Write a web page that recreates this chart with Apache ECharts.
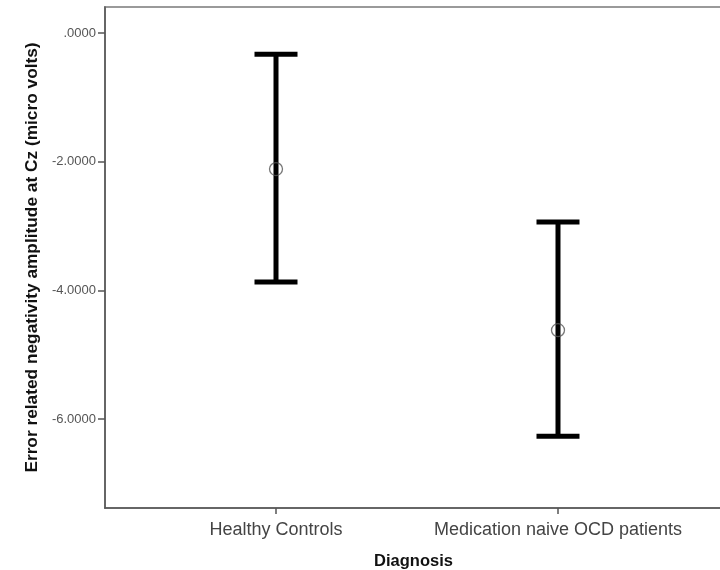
<!DOCTYPE html>
<html>
<head>
<meta charset="utf-8">
<script src="https://cdn.jsdelivr.net/npm/echarts@6/dist/echarts.min.js"></script>
<style>
html,body{margin:0;padding:0;background:#fff;}
#c{width:720px;height:570px;}
</style>
</head>
<body>
<div id="c"></div>
<script>
var categories = ['Healthy Controls', 'Medication naive OCD patients'];
var means = [-2.115, -4.62];
var lowerCI = [-3.87, -6.27];
var upperCI = [-0.33, -2.94];
var yTicks = [0, -2, -4, -6];

var FONT = '"Liberation Sans", Arial, sans-serif';
var chart = echarts.init(document.getElementById('c'));

var barData = categories.map(function (c, i) { return [i, lowerCI[i], upperCI[i]]; });
var meanData = categories.map(function (c, i) { return [i, means[i]]; });

chart.setOption({
  animation: false,
  backgroundColor: '#fff',
  grid: {
    left: 105, right: -2, top: 7, bottom: 62,
    outerBoundsMode: 'none',
    containLabel: false,
    show: true, borderColor: '#9a9a9a', borderWidth: 2
  },
  xAxis: {
    type: 'value',
    min: -0.6064, max: 1.5816,
    name: 'Diagnosis',
    nameLocation: 'middle',
    nameGap: 45,
    nameTextStyle: { fontFamily: FONT, fontWeight: 'bold', fontSize: 16.5, color: '#111' },
    axisLine: { show: true, onZero: false, lineStyle: { color: '#555', width: 1.5 } },
    axisTick: { show: true, customValues: [0, 1], length: 6, lineStyle: { color: '#555', width: 1.5 } },
    axisLabel: {
      customValues: [0, 1],
      formatter: function (v) { return categories[Math.round(v)]; },
      fontFamily: FONT, fontSize: 18, color: '#444', margin: 13
    },
    splitLine: { show: false }
  },
  yAxis: {
    type: 'value',
    min: -7.384, max: 0.404,
    name: 'Error related negativity amplitude at Cz (micro volts)',
    nameLocation: 'middle',
    nameGap: 61,
    nameTextStyle: { fontFamily: FONT, fontWeight: 'bold', fontSize: 17.3, color: '#111' },
    axisLine: { show: true, onZero: false, lineStyle: { color: '#555', width: 1.5 } },
    axisTick: { show: true, customValues: yTicks, length: 7, lineStyle: { color: '#555', width: 1.5 } },
    axisLabel: {
      customValues: yTicks,
      formatter: function (v) { return v === 0 ? '.0000' : v.toFixed(4); },
      fontFamily: FONT, fontSize: 13, color: '#555', margin: 9
    },
    splitLine: { show: false }
  },
  series: [
    {
      type: 'custom',
      data: barData,
      renderItem: function (params, api) {
        var x = api.value(0);
        var lo = api.coord([x, api.value(1)]);
        var hi = api.coord([x, api.value(2)]);
        var hw = 21.5;
        var st = { stroke: '#000', lineWidth: 5, fill: null };
        return {
          type: 'group',
          children: [
            { type: 'line', shape: { x1: lo[0], y1: lo[1], x2: hi[0], y2: hi[1] }, style: st },
            { type: 'line', shape: { x1: lo[0] - hw, y1: lo[1], x2: lo[0] + hw, y2: lo[1] }, style: st },
            { type: 'line', shape: { x1: hi[0] - hw, y1: hi[1], x2: hi[0] + hw, y2: hi[1] }, style: st }
          ]
        };
      },
      z: 2
    },
    {
      type: 'scatter',
      data: meanData,
      symbol: 'circle',
      symbolSize: 13,
      itemStyle: { color: 'rgba(0,0,0,0)', borderColor: '#555', borderWidth: 1.3 },
      z: 3
    }
  ]
});
</script>
</body>
</html>
